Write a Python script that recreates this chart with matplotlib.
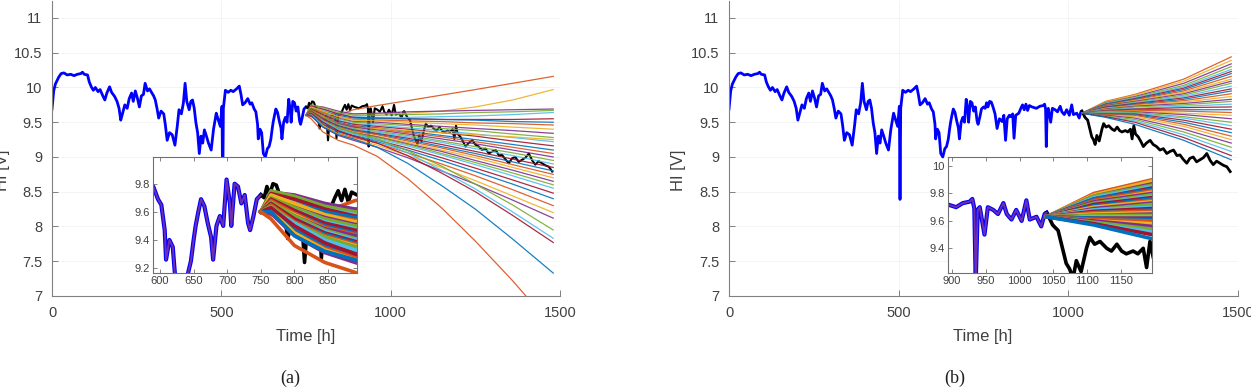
import numpy as np
import matplotlib
matplotlib.use("Agg")
import matplotlib.pyplot as plt
from matplotlib.ticker import FuncFormatter

# ---------------- data ----------------
HI_T = [0, 5, 10, 20, 27, 35, 45, 55, 65, 75, 85, 90, 95, 105, 110, 116, 122, 128, 136, 142,
        150, 156, 162, 170, 176, 185, 192, 198, 203, 208, 215, 222, 228, 235, 240, 246, 252, 258,
        264, 270, 275, 282, 288, 295, 300, 305, 310, 315, 322, 330, 335, 340, 347, 355, 363, 370,
        375, 382, 388, 393, 398, 405, 410, 415, 420, 425, 430, 435, 440, 445, 450, 456, 462, 470,
        477, 485, 490, 497, 502, 504, 506, 512, 520, 528, 535, 545, 553, 558, 563, 570, 578, 585,
        590, 597, 602, 607, 609, 614, 619, 624, 630, 636, 641, 646, 650, 653, 657, 661, 666, 671,
        676, 679, 684, 689, 694, 699, 704, 706, 711, 716, 721, 726, 731, 734, 739, 744, 750, 755,
        759, 763, 768, 773, 778, 784, 790, 797, 805, 810, 815, 820, 826, 830, 836, 840, 845, 854,
        860, 865, 870, 875, 880, 885, 893, 900, 906, 916, 926, 930, 933, 935, 938, 941, 948, 953,
        961, 968, 976, 981, 988, 995, 1003, 1010, 1015, 1025, 1032, 1037, 1040, 1049, 1057, 1064,
        1069, 1074, 1079, 1084, 1091, 1099, 1104, 1111, 1119, 1129, 1136, 1144, 1151, 1158, 1168,
        1175, 1183, 1188, 1193, 1198, 1206, 1214, 1221, 1230, 1241, 1250, 1260, 1270, 1280, 1290,
        1300, 1310, 1320, 1329, 1338, 1349, 1358, 1368, 1378, 1388, 1398, 1408, 1418, 1427, 1437,
        1447, 1457, 1467, 1477]
HI_V = [9.69, 9.95, 10.05, 10.15, 10.20, 10.21, 10.18, 10.19, 10.17, 10.19, 10.20, 10.22, 10.19,
        10.18, 10.08, 10.01, 9.96, 10.00, 9.94, 9.97, 9.88, 9.82, 9.92, 10.01, 9.93, 9.87, 9.80,
        9.70, 9.53, 9.62, 9.75, 9.70, 9.84, 9.92, 9.80, 9.95, 9.85, 9.72, 9.88, 9.90, 10.06, 9.95,
        9.98, 9.92, 9.88, 9.82, 9.70, 9.56, 9.66, 9.62, 9.45, 9.24, 9.35, 9.32, 9.17, 9.45, 9.68,
        9.62, 9.78, 10.06, 9.80, 9.68, 9.80, 9.82, 9.70, 9.49, 9.35, 9.05, 9.30, 9.20, 9.39, 9.30,
        9.20, 9.10, 9.40, 9.63, 9.55, 9.44, 9.73, 8.39, 9.70, 9.96, 9.93, 9.96, 9.94, 9.98, 10.02,
        9.90, 9.75, 9.78, 9.84, 9.76, 9.78, 9.69, 9.65, 9.47, 9.26, 9.40, 9.35, 9.05, 9.00, 9.12,
        9.15, 9.25, 9.40, 9.50, 9.60, 9.69, 9.64, 9.52, 9.42, 9.26, 9.50, 9.57, 9.50, 9.83, 9.66,
        9.50, 9.80, 9.78, 9.66, 9.72, 9.52, 9.47, 9.57, 9.69, 9.72, 9.70, 9.78, 9.72, 9.80, 9.79,
        9.72, 9.62, 9.41, 9.55, 9.51, 9.60, 9.24, 9.55, 9.60, 9.58, 9.62, 9.27, 9.60, 9.63, 9.70,
        9.75, 9.68, 9.76, 9.67, 9.74, 9.72, 9.71, 9.70, 9.73, 9.74, 9.76, 9.69, 9.15, 9.68, 9.70,
        9.50, 9.70, 9.68, 9.65, 9.73, 9.65, 9.61, 9.68, 9.60, 9.75, 9.61, 9.63, 9.56, 9.65, 9.66,
        9.57, 9.53, 9.39, 9.29, 9.25, 9.18, 9.31, 9.23, 9.40, 9.48, 9.43, 9.45, 9.40, 9.38, 9.43,
        9.38, 9.36, 9.38, 9.36, 9.40, 9.26, 9.45, 9.33, 9.29, 9.22, 9.15, 9.20, 9.24, 9.18, 9.15,
        9.10, 9.12, 9.05, 9.08, 9.10, 9.02, 9.03, 8.97, 8.91, 8.98, 9.00, 8.93, 8.96, 8.99, 9.05,
        8.95, 8.89, 8.94, 8.91, 8.88, 8.86, 8.79]

SPLIT_A = 750   # prediction start, panel (a)
SPLIT_B = 1040  # prediction start, panel (b)

FAN_A_T = [750, 765, 800, 845, 890, 960, 1050, 1150, 1250, 1360, 1480]
FAN_A = [
    [9.60, 9.58, 9.55, 9.60, 9.68, 9.74, 9.81, 9.89, 9.97, 10.06, 10.16],
    [9.60, 9.66, 9.64, 9.62, 9.62, 9.62, 9.63, 9.66, 9.72, 9.82, 9.97],
    [9.60, 9.74, 9.72, 9.66, 9.62, 9.63, 9.65, 9.66, 9.67, 9.68, 9.69],
    [9.60, 9.75, 9.71, 9.64, 9.60, 9.60, 9.61, 9.62, 9.64, 9.65, 9.67],
    [9.60, 9.72, 9.68, 9.62, 9.58, 9.57, 9.57, 9.58, 9.59, 9.61, 9.64],
    [9.60, 9.73, 9.69, 9.62, 9.57, 9.56, 9.55, 9.54, 9.54, 9.54, 9.55],
    [9.60, 9.71, 9.66, 9.60, 9.56, 9.55, 9.55, 9.54, 9.53, 9.51, 9.50],
    [9.60, 9.70, 9.65, 9.58, 9.54, 9.53, 9.52, 9.51, 9.49, 9.48, 9.46],
    [9.60, 9.72, 9.66, 9.58, 9.53, 9.52, 9.50, 9.48, 9.46, 9.43, 9.40],
    [9.60, 9.69, 9.63, 9.56, 9.51, 9.50, 9.47, 9.44, 9.41, 9.38, 9.34],
    [9.60, 9.70, 9.63, 9.55, 9.50, 9.48, 9.45, 9.41, 9.38, 9.33, 9.28],
    [9.60, 9.68, 9.61, 9.53, 9.48, 9.46, 9.42, 9.38, 9.33, 9.28, 9.22],
    [9.60, 9.69, 9.61, 9.52, 9.47, 9.44, 9.40, 9.35, 9.30, 9.23, 9.16],
    [9.60, 9.67, 9.59, 9.50, 9.45, 9.42, 9.37, 9.31, 9.25, 9.18, 9.10],
    [9.60, 9.68, 9.59, 9.49, 9.44, 9.41, 9.35, 9.29, 9.22, 9.14, 9.05],
    [9.60, 9.66, 9.58, 9.48, 9.42, 9.41, 9.38, 9.35, 9.32, 9.29, 9.25],
    [9.60, 9.66, 9.57, 9.48, 9.43, 9.39, 9.33, 9.26, 9.19, 9.10, 9.00],
    [9.60, 9.67, 9.57, 9.47, 9.41, 9.37, 9.31, 9.23, 9.15, 9.06, 8.95],
    [9.60, 9.65, 9.55, 9.46, 9.40, 9.36, 9.29, 9.21, 9.12, 9.02, 8.90],
    [9.60, 9.66, 9.55, 9.45, 9.39, 9.34, 9.27, 9.18, 9.08, 8.97, 8.85],
    [9.60, 9.64, 9.53, 9.44, 9.38, 9.33, 9.25, 9.15, 9.05, 8.93, 8.80],
    [9.60, 9.65, 9.53, 9.43, 9.37, 9.32, 9.23, 9.13, 9.02, 8.89, 8.75],
    [9.60, 9.63, 9.51, 9.42, 9.36, 9.30, 9.21, 9.10, 8.99, 8.85, 8.70],
    [9.60, 9.64, 9.51, 9.41, 9.35, 9.29, 9.19, 9.08, 8.95, 8.81, 8.65],
    [9.60, 9.62, 9.49, 9.40, 9.34, 9.28, 9.18, 9.05, 8.92, 8.77, 8.60],
    [9.60, 9.63, 9.49, 9.39, 9.33, 9.26, 9.16, 9.03, 8.89, 8.73, 8.55],
    [9.60, 9.61, 9.47, 9.37, 9.31, 9.24, 9.13, 8.99, 8.84, 8.67, 8.48],
    [9.60, 9.62, 9.47, 9.36, 9.30, 9.22, 9.10, 8.95, 8.79, 8.61, 8.40],
    [9.60, 9.60, 9.45, 9.34, 9.28, 9.20, 9.06, 8.90, 8.73, 8.53, 8.30],
    [9.60, 9.61, 9.45, 9.33, 9.26, 9.17, 9.02, 8.85, 8.66, 8.44, 8.20],
    [9.60, 9.59, 9.43, 9.31, 9.24, 9.14, 8.99, 8.80, 8.61, 8.38, 8.12],
    [9.60, 9.64, 9.52, 9.42, 9.35, 9.26, 9.09, 8.87, 8.61, 8.31, 7.95],
    [9.60, 9.62, 9.52, 9.40, 9.33, 9.24, 9.06, 8.81, 8.54, 8.21, 7.83],
    [9.60, 9.63, 9.50, 9.38, 9.30, 9.20, 9.02, 8.77, 8.50, 8.16, 7.77],
    [9.60, 9.60, 9.43, 9.32, 9.26, 9.14, 8.91, 8.59, 8.25, 7.82, 7.33],
    [9.60, 9.55, 9.36, 9.24, 9.17, 9.01, 8.69, 8.27, 7.79, 7.22, 6.55],
]

FAN_B_T = [1040, 1110, 1196, 1340, 1480]
FAN_B = [
    [9.63, 9.80, 9.90, 10.12, 10.44],
    [9.63, 9.79, 9.89, 10.09, 10.39],
    [9.63, 9.78, 9.87, 10.06, 10.34],
    [9.63, 9.78, 9.86, 10.03, 10.30],
    [9.63, 9.77, 9.85, 10.01, 10.26],
    [9.63, 9.76, 9.84, 9.99, 10.23],
    [9.63, 9.76, 9.83, 9.97, 10.20],
    [9.63, 9.75, 9.82, 9.95, 10.16],
    [9.63, 9.74, 9.81, 9.93, 10.12],
    [9.63, 9.74, 9.80, 9.91, 10.09],
    [9.63, 9.73, 9.79, 9.89, 10.06],
    [9.63, 9.72, 9.78, 9.87, 10.02],
    [9.63, 9.72, 9.77, 9.85, 9.98],
    [9.63, 9.71, 9.76, 9.83, 9.95],
    [9.63, 9.70, 9.75, 9.81, 9.91],
    [9.63, 9.70, 9.74, 9.79, 9.87],
    [9.63, 9.69, 9.73, 9.77, 9.83],
    [9.63, 9.68, 9.72, 9.75, 9.80],
    [9.63, 9.68, 9.70, 9.73, 9.76],
    [9.63, 9.67, 9.69, 9.71, 9.72],
    [9.63, 9.66, 9.68, 9.68, 9.68],
    [9.63, 9.66, 9.67, 9.66, 9.64],
    [9.63, 9.65, 9.66, 9.63, 9.60],
    [9.63, 9.64, 9.65, 9.61, 9.55],
    [9.63, 9.64, 9.64, 9.58, 9.50],
    [9.63, 9.63, 9.63, 9.56, 9.45],
    [9.63, 9.62, 9.62, 9.53, 9.40],
    [9.63, 9.62, 9.61, 9.50, 9.35],
    [9.63, 9.61, 9.60, 9.47, 9.30],
    [9.63, 9.60, 9.58, 9.44, 9.25],
    [9.63, 9.60, 9.56, 9.40, 9.20],
    [9.63, 9.59, 9.54, 9.36, 9.14],
    [9.63, 9.58, 9.52, 9.32, 9.08],
    [9.63, 9.58, 9.50, 9.28, 9.02],
    [9.63, 9.57, 9.47, 9.24, 8.96],
]

MAIN_XTICKS = [0, 500, 1000, 1500]
MAIN_YTICKS = [7, 7.5, 8, 8.5, 9, 9.5, 10, 10.5, 11]
INSET_A_XTICKS = [600, 650, 700, 750, 800, 850]
INSET_A_YTICKS = [9.2, 9.4, 9.6, 9.8]
INSET_B_XTICKS = [900, 950, 1000, 1050, 1100, 1150]
INSET_B_YTICKS = [9.4, 9.6, 9.8, 10]

COLORS = ['#0072BD', '#D95319', '#EDB120', '#7E2F8E', '#77AC30', '#4DBEEE', '#A2142F']
BLUE = '#0000FF'
PURPLE = '#8B3A9A'
TXT = '#404040'

plt.rcParams['font.family'] = ['Liberation Sans', 'DejaVu Sans']

W, H = 1251, 387
fig = plt.figure(figsize=(W / 100, H / 100), dpi=100)

fmt = FuncFormatter(lambda v, p: f"{v:g}")
t_arr = np.array(HI_T)
v_arr = np.array(HI_V)


def px_rect(x0, y0, x1, y1):
    return [x0 / W, 1 - y1 / H, (x1 - x0) / W, (y1 - y0) / H]


def draw(ax, split, fan_t, fan, inset, color_offset, lw_black):
    mb = t_arr <= split
    mk = t_arr >= split
    lw_b = 3.0 if inset else 2.0
    lw_f = 2.6 if inset else 0.9
    ax.plot(t_arr[mb], v_arr[mb], color=BLUE, lw=lw_b, zorder=2)
    if inset:
        ax.plot(t_arr[mb], v_arr[mb], color=PURPLE, lw=1.4, alpha=0.8, zorder=2.1)
    ax.plot(t_arr[mk], v_arr[mk], color='black', lw=lw_black, zorder=2)
    for i, row in enumerate(fan):
        ax.plot(fan_t, row, color=COLORS[(i + color_offset) % len(COLORS)],
                lw=lw_f, alpha=1.0 if inset else 0.9, zorder=3)


def style_main(ax):
    ax.set_xlim(0, 1500)
    ax.set_ylim(7, 11.25)
    ax.set_xticks(MAIN_XTICKS)
    ax.set_yticks(MAIN_YTICKS)
    ax.yaxis.set_major_formatter(fmt)
    ax.xaxis.set_major_formatter(fmt)
    ax.grid(True, color='#f3f3f3', lw=0.6, zorder=0)
    for s in ['top', 'right']:
        ax.spines[s].set_visible(False)
    for s in ['left', 'bottom']:
        ax.spines[s].set_color('#808080')
        ax.spines[s].set_linewidth(0.8)
    ax.tick_params(direction='in', length=4, width=0.7, color='#808080',
                   labelsize=10.5, labelcolor=TXT, pad=7)


def style_inset(ax, xlim, ylim, xt, yt):
    ax.set_xlim(*xlim)
    ax.set_ylim(*ylim)
    ax.set_xticks(xt)
    ax.set_yticks(yt)
    ax.yaxis.set_major_formatter(fmt)
    ax.xaxis.set_major_formatter(fmt)
    for s in ax.spines.values():
        s.set_color('#707070')
        s.set_linewidth(0.8)
    ax.tick_params(direction='in', length=3, width=0.6, color='#707070',
                   labelsize=8, labelcolor=TXT, pad=2.5, top=True, right=True)
    ax.set_facecolor('white')


# ---- panel (a)
axa = fig.add_axes(px_rect(52, 0.6, 560, 296))
draw(axa, SPLIT_A, FAN_A_T, FAN_A, False, 1, 1.5)
style_main(axa)
ia = fig.add_axes(px_rect(153, 157, 357, 273))
draw(ia, SPLIT_A, FAN_A_T, FAN_A, True, 1, 2.6)
style_inset(ia, (589.6, 893), (9.165, 9.99), INSET_A_XTICKS, INSET_A_YTICKS)

# ---- panel (b)
axb = fig.add_axes(px_rect(729, 0.6, 1238, 296))
draw(axb, SPLIT_B, FAN_B_T, FAN_B, False, 1, 2.0)
style_main(axb)
ib = fig.add_axes(px_rect(948, 157, 1152, 273))
draw(ib, SPLIT_B, FAN_B_T, FAN_B, True, 1, 2.6)
style_inset(ib, (894, 1196), (9.22, 10.066), INSET_B_XTICKS, INSET_B_YTICKS)

# ---- labels
for xc in (306, 983):
    fig.text(xc / W, 1 - 337 / H, 'Time [h]', ha='center', va='center',
             fontsize=12, color=TXT)
for xc in (3, 679):
    fig.text(xc / W, 1 - 170 / H, 'HI [V]', ha='center', va='center',
             rotation=90, fontsize=12, color=TXT)
fig.text(290 / W, 1 - 378 / H, '(a)', ha='center', va='center', fontsize=13,
         family=['Liberation Serif', 'DejaVu Serif'], color='#202020')
fig.text(955 / W, 1 - 378 / H, '(b)', ha='center', va='center', fontsize=13,
         family=['Liberation Serif', 'DejaVu Serif'], color='#202020')

fig.savefig('out.png', dpi=100)
